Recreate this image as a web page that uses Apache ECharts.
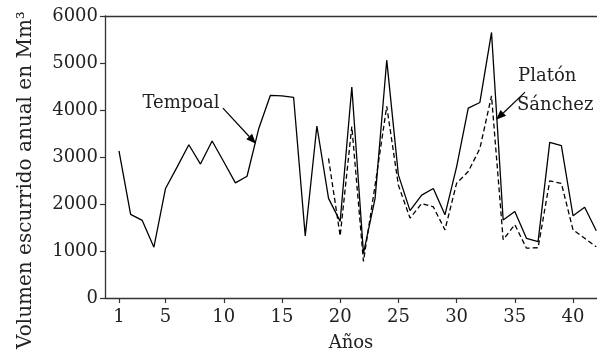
<!DOCTYPE html>
<html>
<head>
<meta charset="utf-8">
<script src="https://cdn.jsdelivr.net/npm/echarts@6/dist/echarts.min.js"></script>
<style>
  html, body { margin: 0; padding: 0; background: #fff; }
  #chart { width: 597px; height: 358px; }
</style>
</head>
<body>
<div id="chart"></div>
<script>
// años 1..42, volumen en Mm3
const tempoalYears = [1,2,3,4,5,6,7,8,9,10,11,12,13,14,15,16,17,18,19,20,21,22,23,24,25,26,27,28,29,30,31,32,33,34,35,36,37,38,39,40,41,42]
const tempoal = [3130,1780,1650,1080,2330,2790,3260,2850,3340,2900,2450,2590,3600,4310,4300,4270,1320,3660,2120,1630,4490,950,2120,5060,2620,1860,2190,2330,1770,2790,4040,4160,5650,1660,1840,1270,1200,3310,3240,1750,1930,1430]
const platonYears = [19,20,21,22,23,24,25,26,27,28,29,30,31,32,33,34,35,36,37,38,39,40,41,42]
const platon = [2970,1320,3650,780,2400,4080,2400,1700,2010,1940,1450,2440,2690,3180,4300,1240,1560,1060,1070,2490,2440,1450,1270,1090]
const xTicks = [1,5,10,15,20,25,30,35,40]

const font = 'DejaVu Serif'
const ink = '#222'

const chart = echarts.init(document.getElementById('chart'))

const toPairs = (xs, ys) => xs.map((x, i) => [x, ys[i]])

const axisLine = { show: true, onZero: false, lineStyle: { color: '#333', width: 1.3 } }

chart.setOption({
  animation: false,
  backgroundColor: '#fff',
  grid: { left: 105, right: 0, top: 16, bottom: 60 },
  xAxis: [
    {
      type: 'value',
      min: -0.2,
      max: 42.06,
      name: 'Años',
      nameLocation: 'middle',
      nameGap: 36,
      nameTextStyle: { fontFamily: font, fontSize: 18, color: ink },
      axisLine: axisLine,
      axisTick: { show: true, inside: false, length: 5, customValues: xTicks, lineStyle: { color: '#333', width: 1.2 } },
      axisLabel: { customValues: xTicks, margin: 10, fontFamily: font, fontSize: 18, color: ink },
      splitLine: { show: false }
    },
    {
      // solo la línea superior del marco
      type: 'value',
      position: 'top',
      min: -0.2,
      max: 42.06,
      axisLine: axisLine,
      axisTick: { show: false },
      axisLabel: { show: false },
      splitLine: { show: false }
    }
  ],
  yAxis: {
    type: 'value',
    min: 0,
    max: 6000,
    interval: 1000,
    axisLine: axisLine,
    axisTick: { show: true, inside: false, length: 5, lineStyle: { color: '#333', width: 1.2 } },
    axisLabel: { margin: 7, fontFamily: font, fontSize: 18, color: ink, formatter: v => String(v) },
    splitLine: { show: false }
  },
  series: [
    {
      name: 'Tempoal',
      type: 'line',
      xAxisIndex: 0,
      data: toPairs(tempoalYears, tempoal),
      symbol: 'none',
      lineStyle: { color: '#000', width: 1.3, type: 'solid' }
    },
    {
      name: 'Platón Sánchez',
      type: 'line',
      xAxisIndex: 0,
      data: toPairs(platonYears, platon),
      symbol: 'none',
      lineStyle: { color: '#000', width: 1.3, type: [5, 3] }
    }
  ]
})

// anotaciones en coordenadas de datos
const notes = [
  { lines: [['Tempoal', 6.33, 4150]], from: [9.93, 4040], to: [12.77, 3280], align: 'center' },
  { lines: [['Platón', 35.28, 4720], ['Sánchez', 35.19, 4110]], from: [35.88, 4380], to: [33.39, 3790], align: 'left' }
]

const px = p => chart.convertToPixel({ xAxisIndex: 0, yAxisIndex: 0 }, p)

const graphics = []
notes.forEach(n => {
  n.lines.forEach(([t, x, y]) => {
    const p = px([x, y])
    graphics.push({
      type: 'text', x: p[0], y: p[1],
      style: { text: t, fontFamily: font, fontSize: 18, fill: ink, align: n.align, verticalAlign: 'middle' }
    })
  })
  const a = px(n.from), b = px(n.to)
  const dx = b[0] - a[0], dy = b[1] - a[1]
  const len = Math.hypot(dx, dy), ux = dx / len, uy = dy / len
  const hl = 10, hw = 4
  const base = [b[0] - ux * hl, b[1] - uy * hl]
  graphics.push({
    type: 'line',
    shape: { x1: a[0], y1: a[1], x2: base[0], y2: base[1] },
    style: { stroke: '#000', lineWidth: 1.2 }
  })
  graphics.push({
    type: 'polygon',
    shape: { points: [b, [base[0] - uy * hw, base[1] + ux * hw], [base[0] + uy * hw, base[1] - ux * hw]] },
    style: { fill: '#000' }
  })
})

// título del eje y
graphics.push({
  type: 'text',
  x: 26,
  y: 180,
  rotation: Math.PI / 2,
  style: { text: 'Volumen escurrido anual en Mm³', fontFamily: font, fontSize: 20, fill: ink, align: 'center', verticalAlign: 'middle' }
})

chart.setOption({ graphic: graphics })
</script>
</body>
</html>
